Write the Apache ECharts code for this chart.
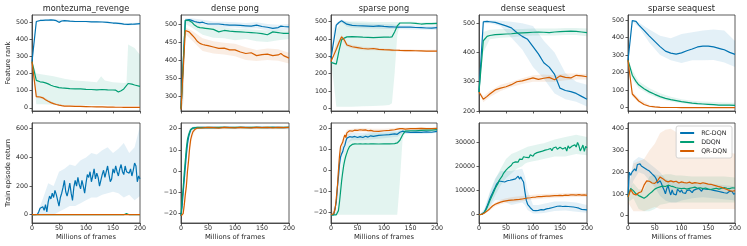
<!DOCTYPE html>
<html><head><meta charset="utf-8">
<script src="https://cdn.jsdelivr.net/npm/echarts@6/dist/echarts.min.js"></script>
<style>html,body{margin:0;padding:0;background:#fff}#c{width:747px;height:246px}</style>
</head><body><div id="c"></div>
<script>
// ---------------- DATA ----------------
const titles = ['montezuma_revenge','dense pong','sparse pong','dense seaquest','sparse seaquest'];
const methods = ['RC-DQN','DDQN','QR-DQN'];
const xTicks = [0,50,100,150,200];

// Top row: feature rank
const mzX  = [0,8,15,20,25,30,35,40,45,50,55,60,70,80,90,100,110,120,130,140,150,155,160,165,170,178,185,190,200];
const mzRC = [270,505,511,512,513,513,514,513,510,500,508,510,507,505,505,505,503,503,502,500,496,495,494,492,490,488,489,490,492];
const mzDD = [270,160,152,150,146,140,132,126,122,118,116,115,112,110,110,108,107,105,107,105,104,103,92,100,110,142,138,133,125];
const mzQR = [270,65,63,58,47,38,30,24,19,15,12,10,9,8,8,7,6,5,5,4,4,3,3,3,2,2,2,2,2];
const mzBX   = [0,8,20,40,60,80,100,120,128,135,150,170,175,178,190,200];
const mzRClo = [268,500,507,508,505,500,500,498,497,496,491,484,483,482,484,486];
const mzRChi = [272,510,516,518,515,510,510,508,507,506,502,497,496,495,497,498];
const mzDDlo = [265,20,20,18,15,15,15,14,14,14,12,12,12,12,12,12];
const mzDDhi = [275,200,195,185,170,160,155,150,185,160,150,145,148,370,350,310];
const mzQRlo = [265,58,50,18,6,4,2,1,1,1,0,0,0,0,0,0];
const mzQRhi = [275,72,66,30,14,12,10,9,8,8,7,6,6,6,6,6];

const dpX  = [0,8,15,20,25,30,35,40,45,50,60,70,80,90,100,110,120,130,140,150,160,170,180,185,190,200];
const dpRC = [265,510,512,510,507,505,504,505,502,500,500,500,498,497,497,496,495,494,497,493,491,488,490,494,493,492];
const dpDD = [265,510,510,505,497,492,490,489,488,487,485,478,482,480,479,478,477,476,475,473,470,478,476,475,474,474];
const dpQR = [262,482,478,470,462,452,446,443,441,440,436,432,433,428,428,422,418,420,412,415,416,412,414,418,412,405];
const dpBX   = [0,4,8,20,40,60,80,100,120,140,160,180,200];
const dpRClo = [260,280,505,505,498,493,490,490,487,488,482,482,484];
const dpRChi = [270,400,515,516,512,507,506,505,503,505,500,498,500];
const dpDDlo = [255,300,500,490,470,462,460,455,458,452,450,455,458];
const dpDDhi = [275,460,515,512,497,493,490,487,486,484,482,484,482];
const dpQRlo = [255,280,472,455,425,418,415,410,400,397,400,398,390];
const dpQRhi = [270,380,490,482,460,452,448,445,435,428,432,430,420];

const spX  = [0,10,15,20,22,25,30,40,50,60,70,80,90,100,110,115,120,125,130,140,150,160,170,180,190,200];
const spRC = [290,480,495,505,500,495,485,478,476,475,474,472,475,472,470,470,469,468,468,468,468,466,465,463,462,465];
const spDD = [265,255,330,395,400,405,412,413,412,410,409,408,409,410,410,412,440,475,492,492,492,490,486,488,488,490];
const spQR = [270,340,380,412,408,395,365,355,350,345,342,345,340,338,337,336,335,335,334,333,333,332,331,330,330,330];
const spBX   = [0,5,10,20,30,40,60,80,100,110,115,120,125,130,150,170,200];
const spRClo = [285,380,470,495,470,465,462,460,458,458,458,457,456,456,455,453,452];
const spRChi = [295,460,492,512,500,495,490,488,486,484,484,482,480,480,482,478,478];
const spDDlo = [260,150,10,10,10,10,12,14,16,20,30,200,420,485,485,480,480];
const spDDhi = [270,275,450,500,500,500,500,498,498,498,498,498,497,498,500,495,498];
const spQRlo = [265,300,330,395,355,345,335,335,330,330,328,328,328,328,326,325,325];
const spQRhi = [275,340,360,425,375,365,355,352,345,343,342,342,342,342,340,338,338];

const dsX  = [0,8,15,20,30,40,50,60,70,80,90,100,110,120,130,140,150,160,170,180,190,200];
const dsRC = [265,505,506,505,503,497,491,484,468,455,445,420,395,365,350,325,278,270,266,260,250,240];
const dsDD = [265,440,455,458,461,462,463,464,466,467,468,469,470,469,468,470,471,472,473,472,470,468];
const dsQR = [265,240,250,258,272,278,283,290,300,303,308,313,308,312,315,307,320,315,313,322,320,317];
const dsBX   = [0,8,20,40,60,80,100,120,140,160,180,200];
const dsRClo = [262,500,500,490,450,410,350,310,260,240,232,215];
const dsRChi = [268,510,510,508,505,500,490,440,400,330,300,290];
const dsDDlo = [262,400,445,450,452,455,458,458,458,460,460,455];
const dsDDhi = [268,470,478,480,480,480,482,482,482,484,484,482];
const dsQRlo = [262,230,248,268,282,292,300,300,300,305,308,308];
const dsQRhi = [268,250,268,290,300,312,322,325,322,328,328,326];

const ssX  = [0,8,15,20,30,40,50,60,70,80,90,100,110,120,130,140,150,160,170,175,180,190,200];
const ssRC = [270,496,492,472,440,408,378,348,322,311,305,312,324,334,346,351,351,346,338,334,330,315,304];
const ssDD = [270,185,150,130,108,90,76,63,53,46,40,34,30,26,23,21,19,17,15,15,14,14,13];
const ssQR = [270,78,55,38,18,8,4,2,1,1,1,0,0,0,0,0,0,0,0,0,0,0,0];
const ssBX   = [0,8,20,40,60,80,100,120,140,160,180,200];
const ssRClo = [265,490,460,370,300,270,255,270,270,272,258,232];
const ssRChi = [275,500,485,445,410,395,420,430,440,445,440,380];
const ssDDlo = [262,160,110,75,50,35,25,18,14,12,10,8];
const ssDDhi = [278,215,150,110,82,62,48,40,35,32,30,28];
const ssQRlo = [262,65,28,3,0,0,0,0,0,0,0,0];
const ssQRhi = [278,95,52,15,6,4,3,3,3,3,3,3];

// Bottom row: train episode return
const X25 = [0,2.5,5,7.5,10,12.5,15,17.5,20,22.5,25,27.5,30,32.5,35,37.5,40,42.5,45,47.5,50,52.5,55,57.5,60,62.5,65,67.5,70,72.5,75,77.5,80,82.5,85,87.5,90,92.5,95,97.5,100,102.5,105,107.5,110,112.5,115,117.5,120,122.5,125,127.5,130,132.5,135,137.5,140,142.5,145,147.5,150,152.5,155,157.5,160,162.5,165,167.5,170,172.5,175,177.5,180,182.5,185,187.5,190,192.5,195,197.5,200];
const X5  = [0,5,10,15,20,25,30,35,40,45,50,55,60,65,70,75,80,85,90,95,100,105,110,115,120,125,130,135,140,145,150,155,160,165,170,175,180,185,190,195,200];
const X10 = [0,10,20,30,40,50,60,70,80,90,100,110,120,130,140,150,160,170,180,190,200];

const mzbRC = [0,0,0,0,2,20,45,40,55,30,70,20,90,130,110,150,120,170,140,100,60,120,150,190,240,160,130,170,220,150,100,190,240,200,260,210,180,240,200,150,220,280,260,300,230,270,320,250,290,260,200,240,280,310,260,300,340,280,230,250,320,290,340,300,270,320,350,300,280,340,300,310,290,320,270,310,360,340,230,270,250];
const mzbDD = [0,0,0,0,0,0,0,0,0,0,0,0,0,0,0,0,0,0,0,0,0,0,0,0,0,0,0,0,0,0,0,0,0,0,0,8,0,0,0,0,0];
const mzbQR = [0,0,0,0,0,0,0,0,0,0,0,0,0,0,0,0,0,0,0,0,0];
const mzbRClo = [0,0,0,0,0,20,40,60,60,80,100,120,120,140,150,160,150,120,140,100,130];
const mzbRChi = [0,10,110,220,200,300,320,350,340,380,400,430,420,450,470,430,460,500,430,470,620];

const dpbX  = [0,2,4,6,8,10,12,14,16,18,20,22,25,30,40,50,60,70,80,90,100,110,120,130,140,150,160,170,180,190,200];
const dpbRC = [-21,-17,-10,-4,2,8,13,16,18,19.5,20,20.3,20.5,20.5,20.6,20.5,20.6,20.5,20.6,20.6,20.5,20.6,20.6,20.5,20.6,20.6,20.5,20.6,20.6,20.5,20.6];
const dpbDD = [-21,-14,-8,-1,5,11,15,17,18.5,19.5,20,20.3,20.5,20.6,20.5,20.6,20.5,20.6,20.6,20.5,20.6,20.6,20.5,20.6,20.6,20.5,20.6,20.6,20.5,20.6,20.6];
const dpbQR = [-21,-21,-20,-16,-11,-7,0,5,11,15,17,18.5,19.5,20.3,20.4,20.6,20.5,20.3,20.6,20.5,20.4,20.6,20.5,20.4,20.6,20.5,20.6,20.4,20.6,20.5,20.6];
const dpbBX   = [0,4,8,12,16,20,25,30,50,100,150,200];
const dpbRClo = [-21,-13,-2,9,16,19,20,20,20,20,20,20];
const dpbRChi = [-20.5,-7,6,16,20,20.6,21,21,21,21,21,21];
const dpbDDlo = [-21,-11,2,12,17,19.5,20,20,20,20,20,20];
const dpbDDhi = [-19,-4,8,17,20,20.8,21,21,21,21,21,21];
const dpbQRlo = [-21,-21,-14,-3,8,15,18.5,19.8,19.8,19.8,19.8,19.8];
const dpbQRhi = [-20.5,-18,-7,4,14,19,20.5,21,21,21,21,21];

const spbX  = [0,5,8,10,12,14,16,18,20,22,24,26,28,30,32,35,38,40,45,50,55,60,65,70,75,80,90,100,110,120,125,130,135,140,150,160,170,180,190,200];
const spbRC = [-21,-21,-20.5,-15,-8,-3,3,6.5,8,9,11,12,14,15.5,16,16.2,16.5,16,16.3,15.8,16.2,15.8,16.4,16,16.6,16.3,16.8,17,17.2,17.5,17.3,18.3,18.8,18.5,18.2,18.4,18.2,18.5,18.3,18.7];
const spbDD = [-21,-21,-21,-21,-20.5,-19,-15,-10,-5,-1,2.5,5,7,8.5,10,11.5,12.3,12.5,12.8,12.7,12.8,12.7,12.8,12.7,12.8,12.8,12.7,12.8,12.8,12.9,13.2,14.5,17,18.8,19,19,19.2,19.3,19.3,19.5];
const spbQR = [-21,-20.5,-18,-13,-8,0,7,11.5,12,13.5,15.5,17,15.8,18,18.5,19,19.2,18.8,19.3,19.2,19.5,19.3,19.4,19,19.2,18.8,18.7,19,19.2,19.5,19.8,20,20,19.8,20,20,20.1,20,20,20.1];
const spbBX   = [0,8,12,16,20,25,30,40,60,80,100,120,125,130,135,140,150,160,180,200];
const spbRClo = [-21,-21,-14,-3,5,9,13,14.5,14.5,15,15.5,16,16,17,17.5,17.5,17.5,17.5,17.5,18];
const spbRChi = [-20.5,-19,-4,8,11,13,17,18,18,18.5,18.5,19,19,19.5,19.5,19.5,19.5,19.5,19.5,19.5];
const spbDDlo = [-21,-21,-21,-21,-21,-21,-21,-21,-21,-21,-21,-21,-21,-5,15,18,18.5,18.5,18.5,18.5];
const spbDDhi = [-20.5,-20.5,-18,-6,3,9,13,16,17,18,18,18.5,18.5,19,19.5,19.5,19.5,19.8,20,20];
const spbQRlo = [-21,-20,-12,3,10,13,16,18,18.5,18.3,18.5,19,19.2,19.5,19.5,19.3,19.5,19.5,19.5,19.6];
const spbQRhi = [-20.5,-16,-4,10,14,17,19.5,20,20.3,20,20,20.3,20.5,20.5,20.5,20.5,20.5,20.5,20.5,20.5];

const dsbRC = [0,50,200,500,1200,2300,3600,5000,6500,7800,9000,10200,11300,12600,13400,13900,13200,13700,12900,13500,13100,14000,13300,14200,13600,14500,13900,14800,15400,15900,14700,15600,14400,13500,9500,6000,4300,3500,2900,2300,1800,1600,1700,1500,1800,1600,2100,2300,2000,2600,2400,2800,2600,3100,2900,3400,3200,3800,3500,4000,3600,3800,3400,3700,3500,3900,3400,3600,3300,3700,3200,3400,3000,3300,2700,2400,2200,2500,2100,2300,2000];
const dsbDD = [0,50,150,300,900,1900,3000,4300,5800,7000,8200,9500,10800,11900,12800,14200,15000,15800,16900,17200,18400,18000,19500,19800,20400,21300,20600,21800,22400,21700,22900,23500,22800,23900,24400,23600,24300,23500,24700,25200,24100,25000,24400,25600,24800,25900,25300,26200,25500,26600,25800,26900,26200,27300,26400,27500,26800,27900,27000,26300,27800,28300,27100,26500,27700,26200,28400,27400,26900,28300,27600,28800,27900,29800,28500,26300,27400,28700,26100,28200,27600];
const dsbQR = [0,150,700,1500,2500,3600,4300,4800,5200,5500,5700,5900,6000,6100,6250,6300,6500,6700,6900,7000,7200,7300,7500,7500,7600,7700,7700,7800,7900,7900,8000,7900,8100,8000,8200,8200,8100,8300,8100,8200,8000];
const dsbBX   = [0,10,20,30,40,50,60,70,80,85,90,100,110,120,140,160,180,200];
const dsbRClo = [0,400,3000,6000,6000,5000,4000,4500,5000,4000,2000,500,500,700,1500,1800,1200,800];
const dsbRChi = [0,2500,9500,15000,18000,18000,18000,18500,19000,16000,10000,4000,4000,4500,5500,5500,5000,4000];
const dsbDDlo = [0,500,3500,8000,12000,15000,17000,19000,20000,21000,21500,22000,22500,23000,24000,24000,25000,24500];
const dsbDDhi = [0,1500,9000,14500,19000,23000,25000,26000,27000,27500,28000,28500,29000,29500,31000,32000,33000,32000];
const dsbQRlo = [0,300,1800,3500,4300,4800,5000,5300,5600,5800,6000,6300,6500,6700,7000,7200,7300,7300];
const dsbQRhi = [0,1200,3200,5000,6200,6800,7200,7500,7700,7800,8000,8200,8400,8500,8800,8900,9100,9000];

const ssbRC = [90,200,185,200,195,215,205,235,242,238,228,232,220,225,212,218,205,200,192,196,180,170,150,142,160,148,130,118,100,125,138,112,95,118,100,108,95,122,115,108,118,105,112,102,115,108,118,110,106,116,112,122,118,125,117,112,124,118,122,115,121,114,119,123,116,110,114,106,111,104,108,100,105,98,103,108,112,105,110,98,102];
const ssbDD = [85,125,115,100,92,86,80,88,100,110,122,128,132,136,134,140,136,133,128,126,124,126,122,125,128,131,126,128,124,127,122,120,123,126,122,126,129,126,124,128,127];
const ssbQR = [85,120,100,95,105,110,140,160,158,150,148,160,178,170,160,155,160,155,158,150,155,152,150,154,148,152,150,147,151,148,145,144,140,137,133,130,125,120,115,112,115];
const ssbBX   = [0,10,20,30,40,50,60,70,80,90,100,120,140,160,180,200];
const ssbRClo = [60,160,200,190,160,130,90,70,60,60,70,80,85,80,75,70];
const ssbRChi = [120,250,270,260,240,220,200,170,160,160,155,150,150,145,140,135];
const ssbDDlo = [60,80,30,20,20,30,50,55,60,60,60,60,60,60,60,60];
const ssbDDhi = [110,150,120,120,180,190,185,190,190,185,185,180,180,180,180,175];
const ssbQRlo = [60,20,20,20,30,40,30,30,30,30,30,30,30,30,30,30];
const ssbQRhi = [110,240,250,260,300,330,380,395,400,385,370,350,335,310,295,285];

// y tick values
const yTicksTop = [[0,100,200,300,400,500],[300,350,400,450,500],[0,100,200,300,400,500],[200,300,400,500],[0,100,200,300,400,500]];
const yTicksBot = [[0,200,400,600],[-20,-10,0,10,20],[-20,-10,0,10,20],[0,10000,20000,30000],[0,100,200,300,400]];

// ---------------- LAYOUT / STYLE ----------------
const LEFT = [32,181,331,479,628], WIDTH = [108,108,106,108,107];
const TOP = [15,123], HEIGHT = [96,100];
const yRangeTop = [[-19,543],[258,525],[-15,538],[200,528],[-19,528]];
const yRangeBot = [[-58,640],[-24.4,22.7],[-24.9,22.7],[-3400,37800],[-34,426]];
const COL = {'RC-DQN':'#0173b2','DDQN':'#029e73','QR-DQN':'#d55e00'};
const FONT = 'DejaVu Sans';
const TXT = '#262626';

const panels = [
  {x:[mzX,mzX,mzX], y:[mzRC,mzDD,mzQR], bx:mzBX, lo:[mzRClo,mzDDlo,mzQRlo], hi:[mzRChi,mzDDhi,mzQRhi]},
  {x:[dpX,dpX,dpX], y:[dpRC,dpDD,dpQR], bx:dpBX, lo:[dpRClo,dpDDlo,dpQRlo], hi:[dpRChi,dpDDhi,dpQRhi]},
  {x:[spX,spX,spX], y:[spRC,spDD,spQR], bx:spBX, lo:[spRClo,spDDlo,spQRlo], hi:[spRChi,spDDhi,spQRhi]},
  {x:[dsX,dsX,dsX], y:[dsRC,dsDD,dsQR], bx:dsBX, lo:[dsRClo,dsDDlo,dsQRlo], hi:[dsRChi,dsDDhi,dsQRhi]},
  {x:[ssX,ssX,ssX], y:[ssRC,ssDD,ssQR], bx:ssBX, lo:[ssRClo,ssDDlo,ssQRlo], hi:[ssRChi,ssDDhi,ssQRhi]},
  {x:[X25,X5,X10], y:[mzbRC,mzbDD,mzbQR], bx:X10, lo:[mzbRClo], hi:[mzbRChi]},
  {x:[dpbX,dpbX,dpbX], y:[dpbRC,dpbDD,dpbQR], bx:dpbBX, lo:[dpbRClo,dpbDDlo,dpbQRlo], hi:[dpbRChi,dpbDDhi,dpbQRhi]},
  {x:[spbX,spbX,spbX], y:[spbRC,spbDD,spbQR], bx:spbBX, lo:[spbRClo,spbDDlo,spbQRlo], hi:[spbRChi,spbDDhi,spbQRhi]},
  {x:[X25,X25,X5], y:[dsbRC,dsbDD,dsbQR], bx:dsbBX, lo:[dsbRClo,dsbDDlo,dsbQRlo], hi:[dsbRChi,dsbDDhi,dsbQRhi]},
  {x:[X25,X5,X5], y:[ssbRC,ssbDD,ssbQR], bx:ssbBX, lo:[ssbRClo,ssbDDlo,ssbQRlo], hi:[ssbRChi,ssbDDhi,ssbQRhi]}
];

function pairs(xs, ys){ return xs.map((x,i)=>[x, ys[i]]); }
function fmt(v){ return v < 0 ? '\u2212' + Math.abs(v) : String(v); }

function bandSeries(g, xs, lo, hi, color){
  const data = xs.map((x,i)=>[x, lo[i], hi[i]]);
  return {type:'custom', xAxisIndex:g, yAxisIndex:g, data, encode:{x:0, y:[1,2]}, clip:true, silent:true, z:1, animation:false,
    renderItem(params, api){
      if (params.dataIndex !== 0) return null;
      const pts = [];
      for (let i = 0; i < data.length; i++) pts.push(api.coord([data[i][0], data[i][2]]));
      for (let i = data.length - 1; i >= 0; i--) pts.push(api.coord([data[i][0], data[i][1]]));
      return {type:'polygon', shape:{points:pts}, style:{fill:color, opacity:0.11}};
    }};
}

const grid = [], xAxis = [], yAxis = [], series = [];
for (let g = 0; g < 10; g++) {
  const row = g < 5 ? 0 : 1, col = g % 5;
  grid.push({left:LEFT[col], top:TOP[row], width:WIDTH[col], height:HEIGHT[row], show:true, borderColor:'#333', borderWidth:0.8, containLabel:false});
  xAxis.push({type:'value', gridIndex:g, min:0, max:200, interval:50,
    axisLine:{show:true, onZero:false, lineStyle:{color:'#333', width:0.8}},
    axisTick:{show:true, length:2.5, lineStyle:{color:'#333', width:0.8}},
    axisLabel:{show:row===1, fontSize:6.3, color:TXT, margin:2.5, fontFamily:FONT, formatter:fmt},
    splitLine:{show:false},
    name: row===1 ? 'Millions of frames' : '', nameLocation:'middle', nameGap:11,
    nameTextStyle:{fontSize:6.8, color:TXT, fontFamily:FONT}});
  const rng = row===0 ? yRangeTop[col] : yRangeBot[col];
  const ticks = row===0 ? yTicksTop[col] : yTicksBot[col];
  yAxis.push({type:'value', gridIndex:g, min:rng[0], max:rng[1],
    axisLine:{show:true, onZero:false, lineStyle:{color:'#333', width:0.8}},
    axisTick:{show:true, length:2.5, customValues:ticks, lineStyle:{color:'#333', width:0.8}},
    axisLabel:{show:true, customValues:ticks, fontSize:6.3, color:TXT, margin:4, fontFamily:FONT, formatter:fmt},
    splitLine:{show:false},
    name: col===0 ? (row===0 ? 'Feature rank' : 'Train episode return') : '',
    nameLocation:'middle', nameGap:19, nameRotate:90,
    nameTextStyle:{fontSize:6.8, color:TXT, fontFamily:FONT}});
  const p = panels[g];
  for (let m = 0; m < p.lo.length; m++) {
    series.push(bandSeries(g, p.bx, p.lo[m], p.hi[m], COL[methods[m]]));
  }
  for (let m = 0; m < 3; m++) {
    const color = COL[methods[m]];
    series.push({type:'line', name:methods[m], xAxisIndex:g, yAxisIndex:g, data:pairs(p.x[m], p.y[m]),
      symbol:'none', showSymbol:false, color, lineStyle:{width:1.2, color}, itemStyle:{color}, z:2, animation:false});
  }
}

const graphic = titles.map((t,i)=>({type:'text', x:LEFT[i]+WIDTH[i]/2, y:9,
  style:{text:t, font:'8.2px "DejaVu Sans"', fill:TXT, align:'center', verticalAlign:'middle'}}));

const chart = echarts.init(document.getElementById('c'), null, {renderer:'canvas'});
chart.setOption({
  animation:false,
  backgroundColor:'#fff',
  grid, xAxis, yAxis, series, graphic,
  legend:{data:methods, orient:'vertical', right:15, top:126, itemWidth:14, itemHeight:2, itemGap:3,
    icon:'rect', padding:[4,5,4,4], backgroundColor:'rgba(255,255,255,0.85)', borderColor:'#cccccc', borderWidth:0.8, borderRadius:2,
    textStyle:{fontSize:6.3, color:TXT, fontFamily:FONT, padding:[0,0,0,2]}}
});
</script>
</body></html>
